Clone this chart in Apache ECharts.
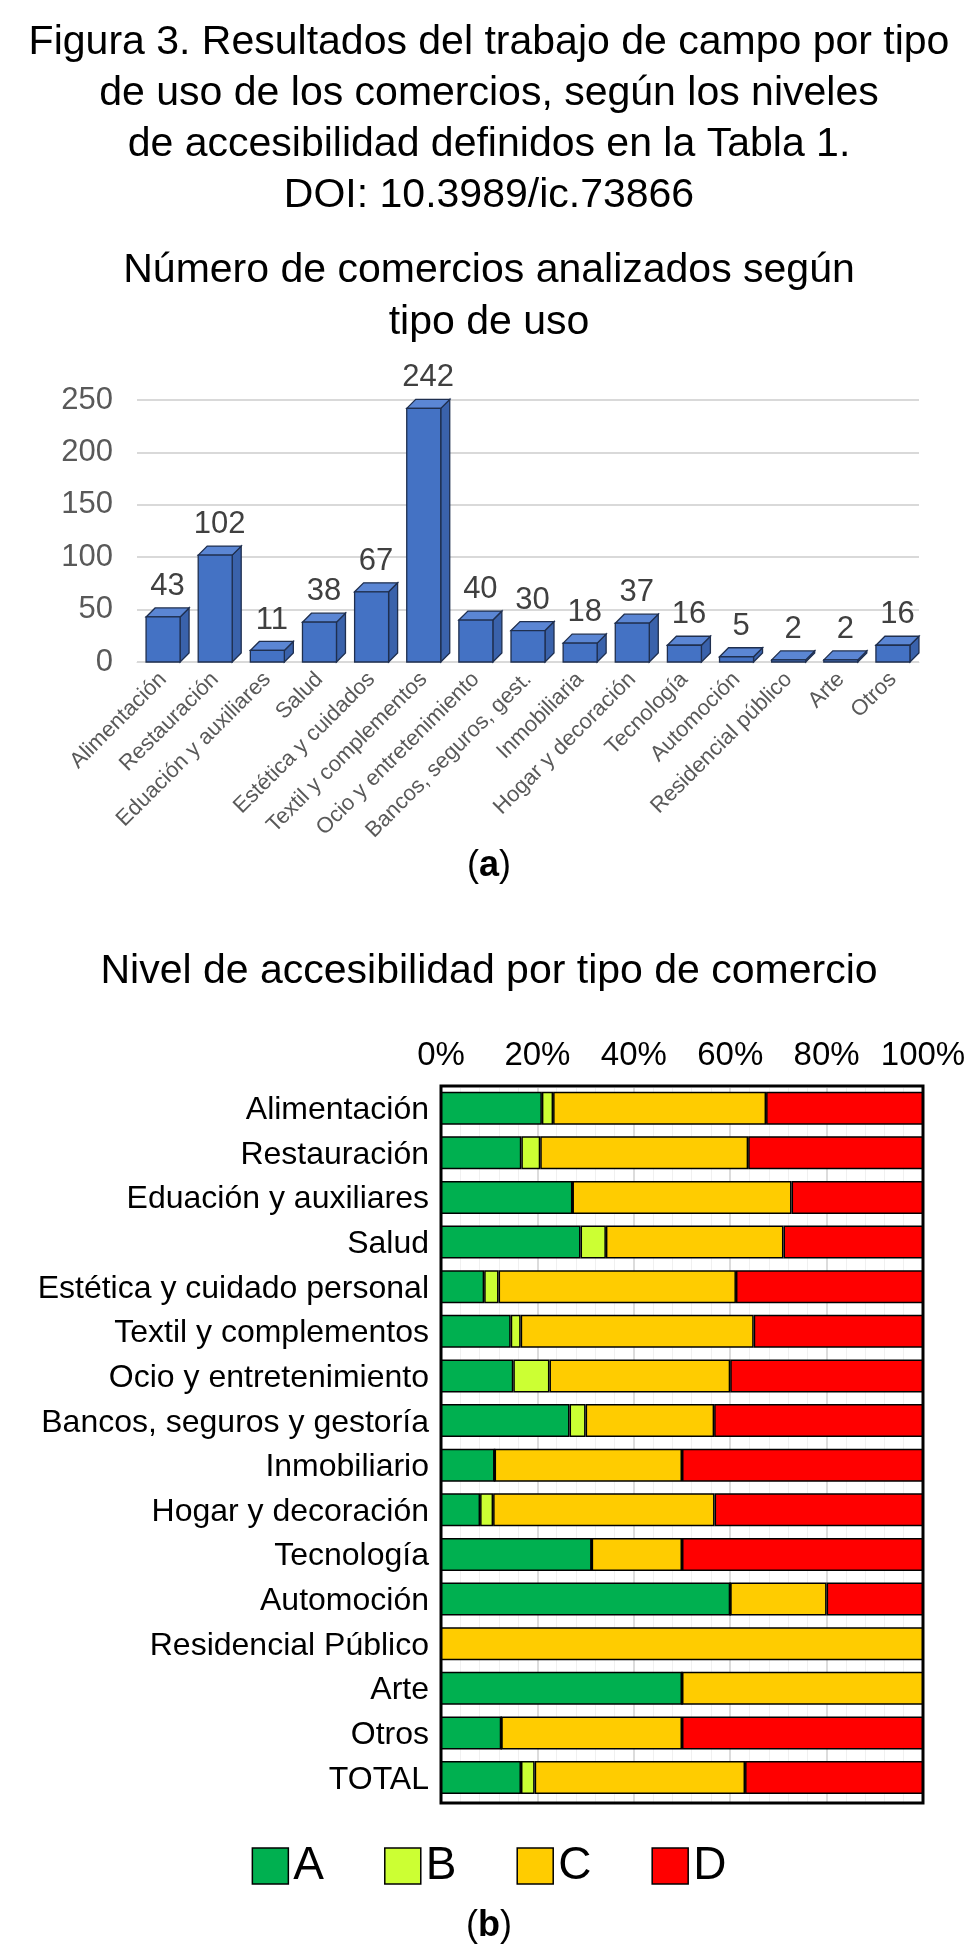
<!DOCTYPE html>
<html><head><meta charset="utf-8">
<script src="https://cdn.jsdelivr.net/npm/echarts@6/dist/echarts.min.js"></script>
<style>html,body{margin:0;padding:0;background:#fff}#c{width:978px;height:1958px}</style>
</head><body><div id="c"></div>
<script>
// datos de la figura (a)
const usoCats = ['Alimentación','Restauración','Eduación y auxiliares','Salud','Estética y cuidados','Textil y complementos','Ocio y entretenimiento','Bancos, seguros, gest.','Inmobiliaria','Hogar y decoración','Tecnología','Automoción','Residencial público','Arte','Otros'];
const usoVals = [43,102,11,38,67,242,40,30,18,37,16,5,2,2,16];
const yTicks = [0,50,100,150,200,250];

// datos de la figura (b): número de comercios por nivel
const nivelCats = ['Alimentación','Restauración','Eduación y auxiliares','Salud','Estética y cuidado personal','Textil y complementos','Ocio y entretenimiento','Bancos, seguros y gestoría','Inmobiliario','Hogar y decoración','Tecnología','Automoción','Residencial Público','Arte','Otros','TOTAL'];
const nivelA = [9,17,3,11,6,35,6,8,2,3,5,3,0,1,2,111];
const nivelB = [1,4,0,2,2,5,3,1,0,1,0,0,0,0,0,19];
const nivelC = [19,44,5,14,33,117,15,8,7,17,3,1,2,1,6,292];
const nivelD = [14,37,3,11,26,85,16,13,9,16,8,1,0,0,8,247];
const pctTicks = ['0%','20%','40%','60%','80%','100%'];

const FONT = 'Liberation Sans, Arial, sans-serif';
const totals = nivelA.map((v,i)=>v+nivelB[i]+nivelC[i]+nivelD[i]);
const pct = arr => arr.map((v,i)=>v/totals[i]*100);

const chart = echarts.init(document.getElementById('c'));

function bar3d(params, api) {
  const idx = api.value(0), val = api.value(1);
  const top = api.coord([idx, val]);
  const base = api.coord([idx, 0]);
  const w = 34, d = 9;
  const x0 = top[0] - w/2, x1 = top[0] + w/2;
  const st = {fill:'#4472C4', stroke:'#1f2f4f', lineWidth:1.3};
  return {type:'group', children:[
    {type:'polygon', shape:{points:[[x1,base[1]],[x1+d,base[1]-d],[x1+d,top[1]-d],[x1,top[1]]]}, style:Object.assign({},st,{fill:'#3a62ab'})},
    {type:'polygon', shape:{points:[[x0,top[1]],[x0+d,top[1]-d],[x1+d,top[1]-d],[x1,top[1]]]}, style:Object.assign({},st,{fill:'#5b86d4'})},
    {type:'rect', shape:{x:x0, y:top[1], width:w, height:base[1]-top[1]}, style:st},
    {type:'text', style:{text:String(val), x:top[0]+d/2, y:top[1]-d-6, align:'center', verticalAlign:'bottom', fontSize:31, fontFamily:FONT, fill:'#404040'}}
  ]};
}

const colors = {A:'#00B050', B:'#CCFF33', C:'#FFCC00', D:'#FF0000'};
const stackSeries = [['A',nivelA],['B',nivelB],['C',nivelC],['D',nivelD]].map(([n,arr])=>({
  name:n, type:'bar', stack:'t', xAxisIndex:1, yAxisIndex:1, barWidth:33,
  itemStyle:{color:colors[n], borderColor:'#000', borderWidth:1.5},
  data:pct(arr)
}));

chart.setOption({
  animation:false,
  textStyle:{fontFamily:FONT},
  title:[
    {text:'Figura 3. Resultados del trabajo de campo por tipo\nde uso de los comercios, según los niveles\nde accesibilidad definidos en la Tabla 1.\nDOI: 10.3989/ic.73866', left:'center', top:12,
     textStyle:{fontSize:41, fontWeight:'normal', lineHeight:51, color:'#000', fontFamily:FONT}},
    {text:'Número de comercios analizados según\ntipo de uso', left:'center', top:240,
     textStyle:{fontSize:41, fontWeight:'normal', lineHeight:52, color:'#000', fontFamily:FONT}},
    {text:'Nivel de accesibilidad por tipo de comercio', left:'center', top:946,
     textStyle:{fontSize:41, fontWeight:'normal', color:'#000', fontFamily:FONT}}
  ],
  graphic:[
    {type:'text', left:'center', top:848, style:{rich:{b:{fontWeight:'bold',fontSize:36,fontFamily:FONT}}, text:'({b|a})', fontSize:36, fontFamily:FONT, fill:'#000'}},
    {type:'text', left:'center', top:1908, style:{rich:{b:{fontWeight:'bold',fontSize:36,fontFamily:FONT}}, text:'({b|b})', fontSize:36, fontFamily:FONT, fill:'#000'}}
  ],
  legend:{data:['A','B','C','D'], left:'center', top:1838, itemWidth:36, itemHeight:36, itemGap:60, icon:'rect',
    itemStyle:{borderColor:'#000', borderWidth:1.5},
    textStyle:{fontSize:46, color:'#000', fontFamily:FONT}},
  grid:[
    {left:137, right:59, top:400, height:262},
    {left:441, width:482, top:1088, height:714}
  ],
  xAxis:[
    {gridIndex:0, type:'category', data:usoCats,
     axisLine:{lineStyle:{color:'#d9d9d9'}}, axisTick:{show:false},
     axisLabel:{rotate:45, interval:0, fontSize:22, color:'#595959', margin:14}},
    {gridIndex:1, type:'value', position:'top', min:0, max:100, interval:20,
     axisLabel:{formatter:v=>pctTicks[v/20], fontSize:33, color:'#000', margin:16},
     axisLine:{show:false}, axisTick:{show:false},
     splitLine:{lineStyle:{color:'#d0d0d0', width:1.5}},
     minorTick:{show:false}, minorSplitLine:{show:true, lineStyle:{color:'#f0f0f0'}}}
  ],
  yAxis:[
    {gridIndex:0, type:'value', min:0, max:250, interval:50,
     axisLabel:{fontSize:31, color:'#595959', margin:24, formatter:v=>String(yTicks[v/50])},
     splitLine:{lineStyle:{color:'#d9d9d9', width:2}}},
    {gridIndex:1, type:'category', data:nivelCats, inverse:true,
     axisLine:{show:false}, axisTick:{show:false},
     axisLabel:{fontSize:32, color:'#000', margin:12}}
  ],
  series:[
    {type:'custom', xAxisIndex:0, yAxisIndex:0, renderItem:bar3d,
     data:usoVals.map((v,i)=>[i,v])},
    ...stackSeries,
    {type:'bar', xAxisIndex:1, yAxisIndex:1, data:[], silent:true,
     markArea:{silent:true, itemStyle:{color:'transparent', borderColor:'#000', borderWidth:3},
       data:[[{coord:[0,0], y:1086},{coord:[100,0], y:1803}]]}}
  ]
});
</script></body></html>
